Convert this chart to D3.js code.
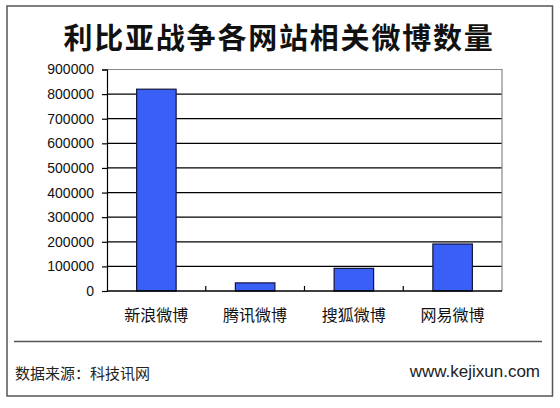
<!DOCTYPE html>
<html>
<head>
    <meta charset="utf-8">
    <title>利比亚战争各网站相关微博数量</title>
    <script src="https://cdnjs.cloudflare.com/ajax/libs/d3/7.8.5/d3.min.js"></script>
    <style>
        body {
            margin: 0;
            background-color: #fff;
        }
        svg {
            display: block;
        }
    </style>
</head>
<body>
    <div id="chart"></div>

    <script>
        // Chart data
        const titleText = '利比亚战争各网站相关微博数量';
        const categories = ['新浪微博', '腾讯微博', '搜狐微博', '网易微博'];
        const values = [820000, 33000, 92000, 191000];
        const yTicks = [0, 100000, 200000, 300000, 400000, 500000, 600000, 700000, 800000, 900000];
        const sourceText = '数据来源：科技讯网';
        const siteText = 'www.kejixun.com';

        const width = 560;
        const height = 408;
        const plot = {left: 107, right: 502, top: 69.5, bottom: 291};
        const cjk = '"Noto Sans CJK SC", "Noto Sans", sans-serif';

        const svg = d3.select('#chart')
            .append('svg')
                .attr('width', width)
                .attr('height', height);

        // Outer frame
        svg.append('rect')
            .attr('x', 7)
            .attr('y', 6)
            .attr('width', 545.5)
            .attr('height', 390)
            .attr('fill', '#fff')
            .attr('stroke', '#555')
            .attr('stroke-width', 1.5);

        // Title
        svg.append('text')
            .attr('x', 279)
            .attr('y', 36)
            .attr('text-anchor', 'middle')
            .attr('dominant-baseline', 'central')
            .style('font-family', cjk)
            .style('font-weight', 'bold')
            .style('font-size', '29px')
            .style('letter-spacing', '1.8px')
            .style('fill', '#111')
            .text(titleText);

        // Scales
        const x = d3.scaleBand()
            .domain(categories)
            .range([plot.left, plot.right])
            .paddingInner(0.6)
            .paddingOuter(0.3);

        const y = d3.scaleLinear()
            .domain([0, d3.max(yTicks)])
            .range([plot.bottom, plot.top]);

        // Gridlines
        svg.append('g')
            .selectAll('line')
            .data(yTicks.slice(1, -1))
            .join('line')
                .attr('x1', plot.left)
                .attr('x2', plot.right)
                .attr('y1', d => y(d))
                .attr('y2', d => y(d))
                .attr('stroke', '#000')
                .attr('stroke-width', 1.2);

        // Top and right border of plot area
        svg.append('path')
            .attr('d', `M${plot.left},${y(d3.max(yTicks))}H${plot.right}V${y(0)}`)
            .attr('fill', 'none')
            .attr('stroke', '#888')
            .attr('stroke-width', 1.2);

        // Bars
        svg.append('g')
            .selectAll('rect')
            .data(values)
            .join('rect')
                .attr('x', (d, i) => x(categories[i]))
                .attr('y', d => y(d))
                .attr('width', x.bandwidth())
                .attr('height', d => y(0) - y(d))
                .attr('fill', '#3a5ff6')
                .attr('stroke', '#14143c')
                .attr('stroke-width', 1.2);

        // Y axis
        const yAxis = svg.append('g')
            .attr('transform', `translate(${plot.left},0)`)
            .call(d3.axisLeft(y)
                .tickValues(yTicks)
                .tickSize(5)
                .tickPadding(8)
                .tickFormat(d3.format('d')));
        yAxis.select('.domain').attr('stroke', '#000').attr('stroke-width', 1.2);
        yAxis.selectAll('.tick line').attr('stroke', '#000').attr('stroke-width', 1.2);
        yAxis.selectAll('.tick text')
            .style('font-family', '"Liberation Sans", Arial, sans-serif')
            .style('font-size', '14px')
            .style('fill', '#111');

        // X axis line and category boundary ticks
        svg.append('line')
            .attr('x1', plot.left)
            .attr('x2', plot.right)
            .attr('y1', y(0))
            .attr('y2', y(0))
            .attr('stroke', '#000')
            .attr('stroke-width', 1.5);

        const gap = (x.step() - x.bandwidth()) / 2;
        svg.append('g')
            .selectAll('line')
            .data(categories.slice(1))
            .join('line')
                .attr('x1', d => x(d) - gap)
                .attr('x2', d => x(d) - gap)
                .attr('y1', y(0) - 5)
                .attr('y2', y(0))
                .attr('stroke', '#000')
                .attr('stroke-width', 1.2);

        // Category labels
        svg.append('g')
            .selectAll('text')
            .data(categories)
            .join('text')
                .attr('x', d => x(d) + x.bandwidth() / 2)
                .attr('y', 314)
                .attr('text-anchor', 'middle')
                .attr('dominant-baseline', 'central')
                .style('font-family', cjk)
                .style('font-size', '16px')
                .style('fill', '#111')
                .text(d => d);

        // Footer separator
        svg.append('line')
            .attr('x1', 14)
            .attr('x2', 542)
            .attr('y1', 341.5)
            .attr('y2', 341.5)
            .attr('stroke', '#555')
            .attr('stroke-width', 1.5);

        // Footer texts
        svg.append('text')
            .attr('x', 15)
            .attr('y', 372)
            .attr('dominant-baseline', 'central')
            .style('font-family', cjk)
            .style('font-size', '15px')
            .style('fill', '#222')
            .text(sourceText);

        svg.append('text')
            .attr('x', 540)
            .attr('y', 377)
            .attr('text-anchor', 'end')
            .style('font-family', '"Liberation Sans", Arial, sans-serif')
            .style('font-size', '17px')
            .style('fill', '#222')
            .text(siteText);
    </script>
</body>
</html>
